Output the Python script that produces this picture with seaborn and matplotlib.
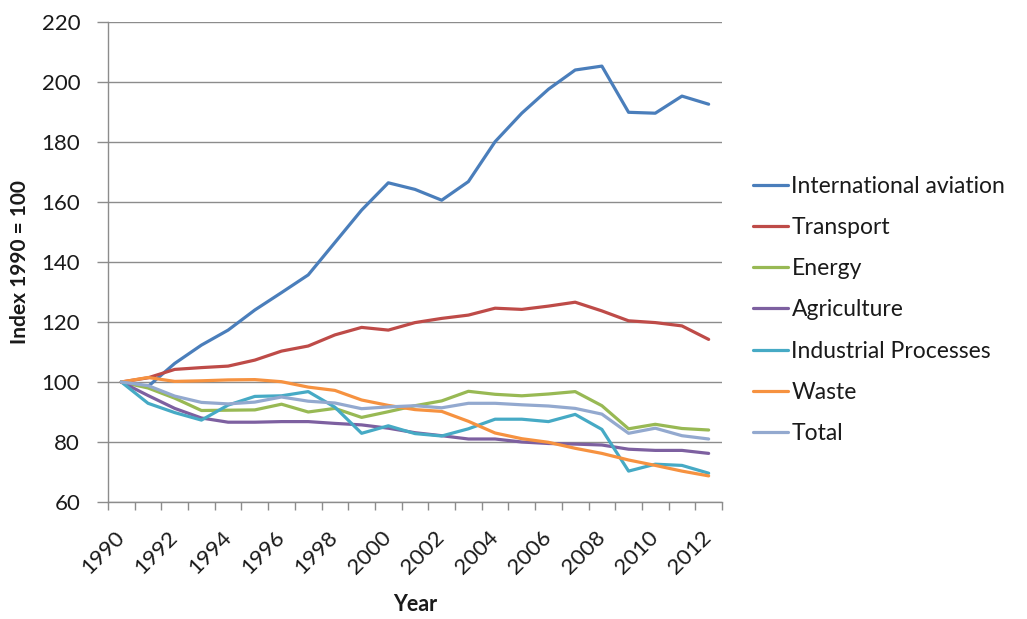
import matplotlib
matplotlib.use("Agg")
import matplotlib.pyplot as plt
import matplotlib.transforms as mtransforms
from matplotlib.ticker import FixedLocator, MultipleLocator
import numpy as np
import pandas as pd
import seaborn as sns

# Greenhouse gas emissions by sector, indexed to 1990 = 100
years = list(range(1990, 2013))

international_aviation = [100, 98.5, 106.2, 112.3, 117.3, 124.0, 129.8, 135.7, 146.5, 157.3,
                          166.4, 164.2, 160.6, 166.8, 180.1, 189.6, 197.6, 204.0, 205.3,
                          189.9, 189.6, 195.3, 192.6]
transport = [100, 101.4, 104.2, 104.8, 105.3, 107.3, 110.3, 112.0, 115.7, 118.2, 117.3,
             119.8, 121.2, 122.3, 124.6, 124.2, 125.3, 126.6, 123.7, 120.4, 119.8, 118.7, 114.2]
energy = [100, 98.0, 94.6, 90.5, 90.6, 90.7, 92.6, 90.0, 91.2, 88.2, 90.1, 92.1, 93.7,
          96.9, 95.9, 95.4, 96.0, 96.8, 92.1, 84.4, 85.9, 84.5, 84.0]
agriculture = [100, 95.5, 91.2, 88.0, 86.6, 86.6, 86.8, 86.8, 86.2, 85.7, 84.6, 83.1, 82.1,
               81.0, 81.0, 80.0, 79.5, 79.3, 79.0, 77.6, 77.2, 77.2, 76.2]
industrial_processes = [100, 92.9, 89.8, 87.3, 92.3, 95.2, 95.4, 96.8, 91.6, 82.9, 85.4,
                        82.8, 82.0, 84.4, 87.6, 87.6, 86.8, 89.2, 84.2, 70.3, 72.6, 72.2, 69.6]
waste = [100, 101.5, 100.2, 100.4, 100.7, 100.8, 100.1, 98.3, 97.2, 94.0, 92.2, 90.8, 90.2,
         86.9, 83.0, 81.1, 79.9, 77.9, 76.2, 74.0, 72.2, 70.3, 68.7]
total = [100, 98.8, 95.3, 93.2, 92.7, 93.3, 95.0, 93.6, 93.0, 91.1, 91.7, 92.1, 91.4, 92.9,
         92.9, 92.4, 92.0, 91.2, 89.3, 82.9, 84.6, 82.1, 81.0]

series_names = ["International aviation", "Transport", "Energy", "Agriculture",
                "Industrial Processes", "Waste", "Total"]
series_values = [international_aviation, transport, energy, agriculture,
                 industrial_processes, waste, total]
series_colors = ["#4A7EBB", "#BE4B48", "#98B954", "#7D60A0", "#46AAC5", "#F69240", "#93A9CF"]

df = pd.concat(
    [pd.DataFrame({"Year": years, "Index": vals, "Sector": name})
     for name, vals in zip(series_names, series_values)],
    ignore_index=True,
)

sns.set_theme(style="white")
plt.rcParams["font.family"] = ["Lato", "DejaVu Sans"]

text_color = "#1a1a1a"
axis_gray = "#8c8c8c"

fig = plt.figure(figsize=(10.27, 6.19), dpi=100)
ax = fig.add_axes([108 / 1027, 1 - 502 / 619, (722 - 108) / 1027, (502 - 22) / 619])

sns.lineplot(data=df, x="Year", y="Index", hue="Sector", hue_order=series_names,
             palette=series_colors, linewidth=2.3, ax=ax, legend=True)

ax.set_xlim(1989.5, 2012.5)
ax.set_ylim(60, 220)
ax.yaxis.set_major_locator(MultipleLocator(20))
ax.grid(axis="y", color=axis_gray, linewidth=1.0)
ax.set_axisbelow(True)

for side in ("top", "right"):
    ax.spines[side].set_visible(False)
for side in ("left", "bottom"):
    ax.spines[side].set_color(axis_gray)
    ax.spines[side].set_linewidth(1.0)

# Year labels every other year; tick marks sit between categories
ax.xaxis.set_major_locator(FixedLocator(years[::2]))
ax.xaxis.set_minor_locator(FixedLocator(np.arange(1989.5, 2013.0, 1.0)))
ax.tick_params(axis="x", which="major", length=0, pad=18, labelsize=16, colors=text_color)
ax.tick_params(axis="x", which="minor", length=6, width=1.0, color=axis_gray, direction="out",
               bottom=True)
ax.tick_params(axis="y", which="major", length=8, width=1.0, color=axis_gray, direction="out",
               left=True, pad=12, labelsize=16, labelcolor=text_color)

offset = mtransforms.ScaledTranslation(7 / 100, 0, fig.dpi_scale_trans)
for lbl in ax.get_xticklabels():
    lbl.set_rotation(45)
    lbl.set_ha("right")
    lbl.set_va("top")
    lbl.set_transform(lbl.get_transform() + offset)

ax.set_xlabel("Year", fontsize=15.5, fontweight="bold", color=text_color, labelpad=12)
ax.set_ylabel("Index 1990 = 100", fontsize=15, fontweight="bold", color=text_color, labelpad=8)

ax.legend(title=None, loc="center left", bbox_to_anchor=(744 / 1027, 1 - 310 / 619),
          bbox_transform=fig.transFigure, frameon=False, fontsize=16.5,
          handlelength=1.5, handletextpad=0.17, labelspacing=0.88, borderaxespad=0,
          labelcolor=text_color)
for line in ax.get_legend().get_lines():
    line.set_linewidth(2.3)

fig.savefig("out.png", dpi=100)
